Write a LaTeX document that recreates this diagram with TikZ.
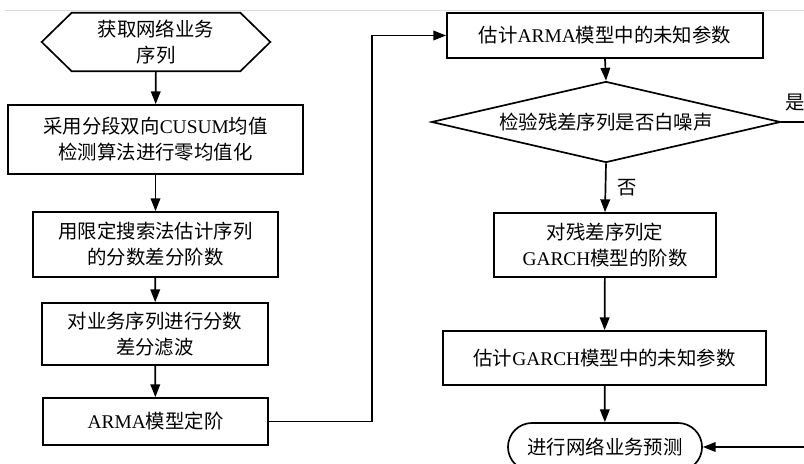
\documentclass[tikz,border=0pt]{standalone}
\usepackage{fontspec}
\setmainfont{Liberation Serif}
\newfontfamily\cjk{Noto Sans CJK SC}
\usetikzlibrary{positioning,calc,shapes.geometric,shapes.misc,arrows.meta}
\newcommand{\lat}[1]{{\rmfamily #1}}

\tikzset{
  box/.style={draw, line width=1.2pt, align=center, inner sep=0pt},
  flow/.style={line width=1.2pt, -{Triangle[length=3.2mm,width=2.4mm]}},
}

\begin{document}
\begin{tikzpicture}[x=0.025cm, y=-0.025cm, font=\cjk\fontsize{13.8pt}{18.5pt}\selectfont]
 \useasboundingbox (0,0) rectangle (804,464);
 \draw[gray!30, line width=0.6pt] (5,10) -- (804,10);

    % left column
    \node (start) at (156,42) [align=center, minimum width=5.7cm, minimum height=1.45cm] {获取网络业务\\序列};
    \draw[line width=1.2pt] (start.west) -- ($(start.north west)+(30,0)$) -- ($(start.north east)+(-30,0)$)
      -- (start.east) -- ($(start.south east)+(-30,0)$) -- ($(start.south west)+(30,0)$) -- cycle;
    \node (zero) at (155.5,139.5) [box, minimum width=7.375cm, minimum height=1.725cm] {采用分段双向\lat{CUSUM}均值\\检测算法进行零均值化};
    \node (order) at (155.5,244.5) [box, minimum width=6.125cm, minimum height=1.625cm] {用限定搜索法估计序列\\的分数差分阶数};
    \node (filter) at (155,334) [box, minimum width=5.65cm, minimum height=1.55cm] {对业务序列进行分数\\差分滤波};
    \node (arma) at (155.5,421.5) [box, minimum width=5.625cm, minimum height=1.175cm] {\lat{ARMA}模型定阶};

    % right column
    \node (est) at (605,35.5) [box, minimum width=7.9cm, minimum height=1.125cm] {估计\lat{ARMA}模型中的未知参数};
    \node (test) at (606,122) [box, diamond, aspect=4.3, minimum width=8.725cm, minimum height=2.025cm] {检验残差序列是否白噪声};
    \node (garch) at (605,245) [box, minimum width=5.55cm, minimum height=1.6cm] {对残差序列定\\\lat{GARCH}模型的阶数};
    \node (gest) at (604.5,358) [box, minimum width=8.075cm, minimum height=1.35cm] {估计\lat{GARCH}模型中的未知参数};
    \node (pred) at (605,447) [box, rounded rectangle, minimum width=4.85cm, minimum height=1.2cm] {进行网络业务预测};

    \coordinate (bend) at (372,421.5);
    \coordinate (yes) at (810,122);
    \coordinate (back) at (810,447);

    % connectors
    \draw[flow] (start) -- (zero);
    \draw[flow] (zero) -- (order);
    \draw[flow] (order) -- (filter);
    \draw[flow] (filter) -- (arma);
    \draw[flow] (arma.east) -- (bend) |- (est.west);
    \draw[flow] (est.south) -- (test.north);
    \draw[flow] (test.south) -- node[midway, anchor=west, inner sep=0pt, xshift=0.27cm] {否} (garch.north);
    \draw[line width=1.2pt] (test.east) -- (yes);
    \node (yeslabel) at (795,103) {是};
    \draw[flow] (garch) -- (gest);
    \draw[flow] (gest) -- (pred);
    \draw[flow] (back) -- (pred.east);

\end{tikzpicture}
\end{document}
